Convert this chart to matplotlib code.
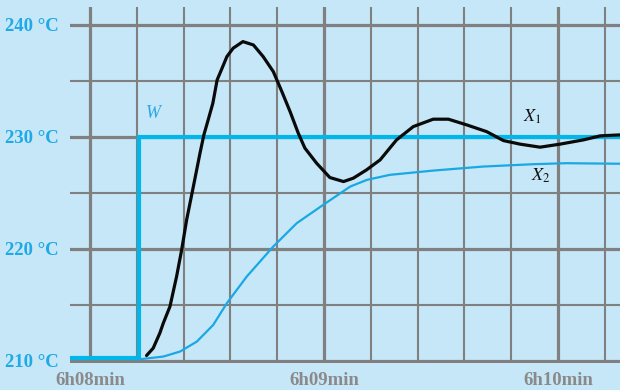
import matplotlib
matplotlib.use("Agg")
import matplotlib.pyplot as plt
from matplotlib.ticker import MultipleLocator

plt.rcParams['font.family'] = ['Liberation Serif', 'DejaVu Serif']
plt.rcParams['mathtext.fontset'] = 'stix'

# time in seconds after 6h08min, temperature in degC
w_t = [-6, 12.6, 12.6, 140]
w_val = [210.25, 210.25, 230, 230]

x1_t = [14.5, 16.2, 17.9, 18.8, 20.5, 22.2, 23.5, 24.8, 26.5, 28.2, 29.2, 30.3,
        31.5, 32.6, 33.5, 35.1, 36.7, 39.2, 41.9, 44.4, 47.0, 49.2, 51.3, 53.4,
        55.1, 58.1, 61.5, 65.0, 67.5, 70.9, 74.4, 78.6, 82.9, 88.0, 91.9, 96.6,
        101.7, 106.0, 110.3, 115.4, 120.5, 126.5, 130.8, 136.0]
x1_val = [210.47, 211.13, 212.47, 213.37, 214.85, 217.53, 219.91, 222.63, 225.56,
          228.54, 230.18, 231.52, 233.01, 235.09, 235.83, 237.17, 237.92, 238.51,
          238.21, 237.17, 235.83, 234.04, 232.26, 230.33, 229.0, 227.65, 226.37,
          226.01, 226.31, 227.05, 227.95, 229.73, 230.92, 231.58, 231.58, 231.07,
          230.47, 229.67, 229.35, 229.08, 229.35, 229.73, 230.09, 230.18]

x2_t = [13.0, 18.8, 23.1, 27.4, 31.6, 35.1, 40.2, 47.0, 53.0, 59.8, 66.7, 71.0,
        76.9, 88.0, 100.8, 113.7, 122.2, 136.0]
x2_val = [210.15, 210.38, 210.83, 211.72, 213.21, 215.15, 217.53, 220.21, 222.29,
          223.93, 225.56, 226.16, 226.61, 226.99, 227.35, 227.56, 227.65, 227.6]

y_ticks = [210, 220, 230, 240]
y_labels = ['210 °C', '220 °C', '230 °C', '240 °C']
x_ticks = [0, 60, 120]
x_labels = ['6h08min', '6h09min', '6h10min']

bg = '#c6e7f8'
gray = '#808080'

fig = plt.figure(figsize=(6.2, 3.9), dpi=100, facecolor=bg)
ax = fig.add_axes([70 / 620, (390 - 362.5) / 390, 550 / 620, 355.5 / 390])
ax.set_facecolor(bg)

ax.set_xlim(-5.13, 135.9)
ax.set_ylim(209.85, 241.6)

ax.xaxis.set_minor_locator(MultipleLocator(12))
ax.yaxis.set_minor_locator(MultipleLocator(5))
ax.set_xticks(x_ticks)
ax.set_xticklabels(x_labels)
ax.set_yticks(y_ticks)
ax.set_yticklabels(y_labels)

ax.grid(which='major', color=gray, lw=2.3)
ax.grid(which='minor', color=gray, lw=1.5)
ax.set_axisbelow(True)
ax.tick_params(which='both', length=0)
ax.tick_params(axis='x', pad=6.5, labelsize=13.5, labelcolor='#8a8a8a')
ax.tick_params(axis='y', pad=8, labelsize=13.5, labelcolor='#1fa9e6')
for lab in ax.get_xticklabels() + ax.get_yticklabels():
    lab.set_fontweight('bold')
for s in ax.spines.values():
    s.set_visible(False)

ax.plot(w_t, w_val, color='#00b7ec', lw=3.0, solid_joinstyle='miter', zorder=3)
ax.plot(x2_t, x2_val, color='#1aa8e4', lw=1.6, zorder=3)
ax.plot(x1_t, x1_val, color='#0a0a0a', lw=2.3, solid_joinstyle='round',
        solid_capstyle='round', zorder=4)

ax.text(16.3, 232.1, 'W', color='#2aa8e4', fontsize=13, style='italic',
        ha='center', va='center')
ax.text(113.5, 231.8, '$X_1$', color='#111111', fontsize=13,
        ha='center', va='center')
ax.text(115.5, 226.5, '$X_2$', color='#111111', fontsize=13,
        ha='center', va='center')

fig.savefig('out.png', dpi=100, facecolor=bg)
